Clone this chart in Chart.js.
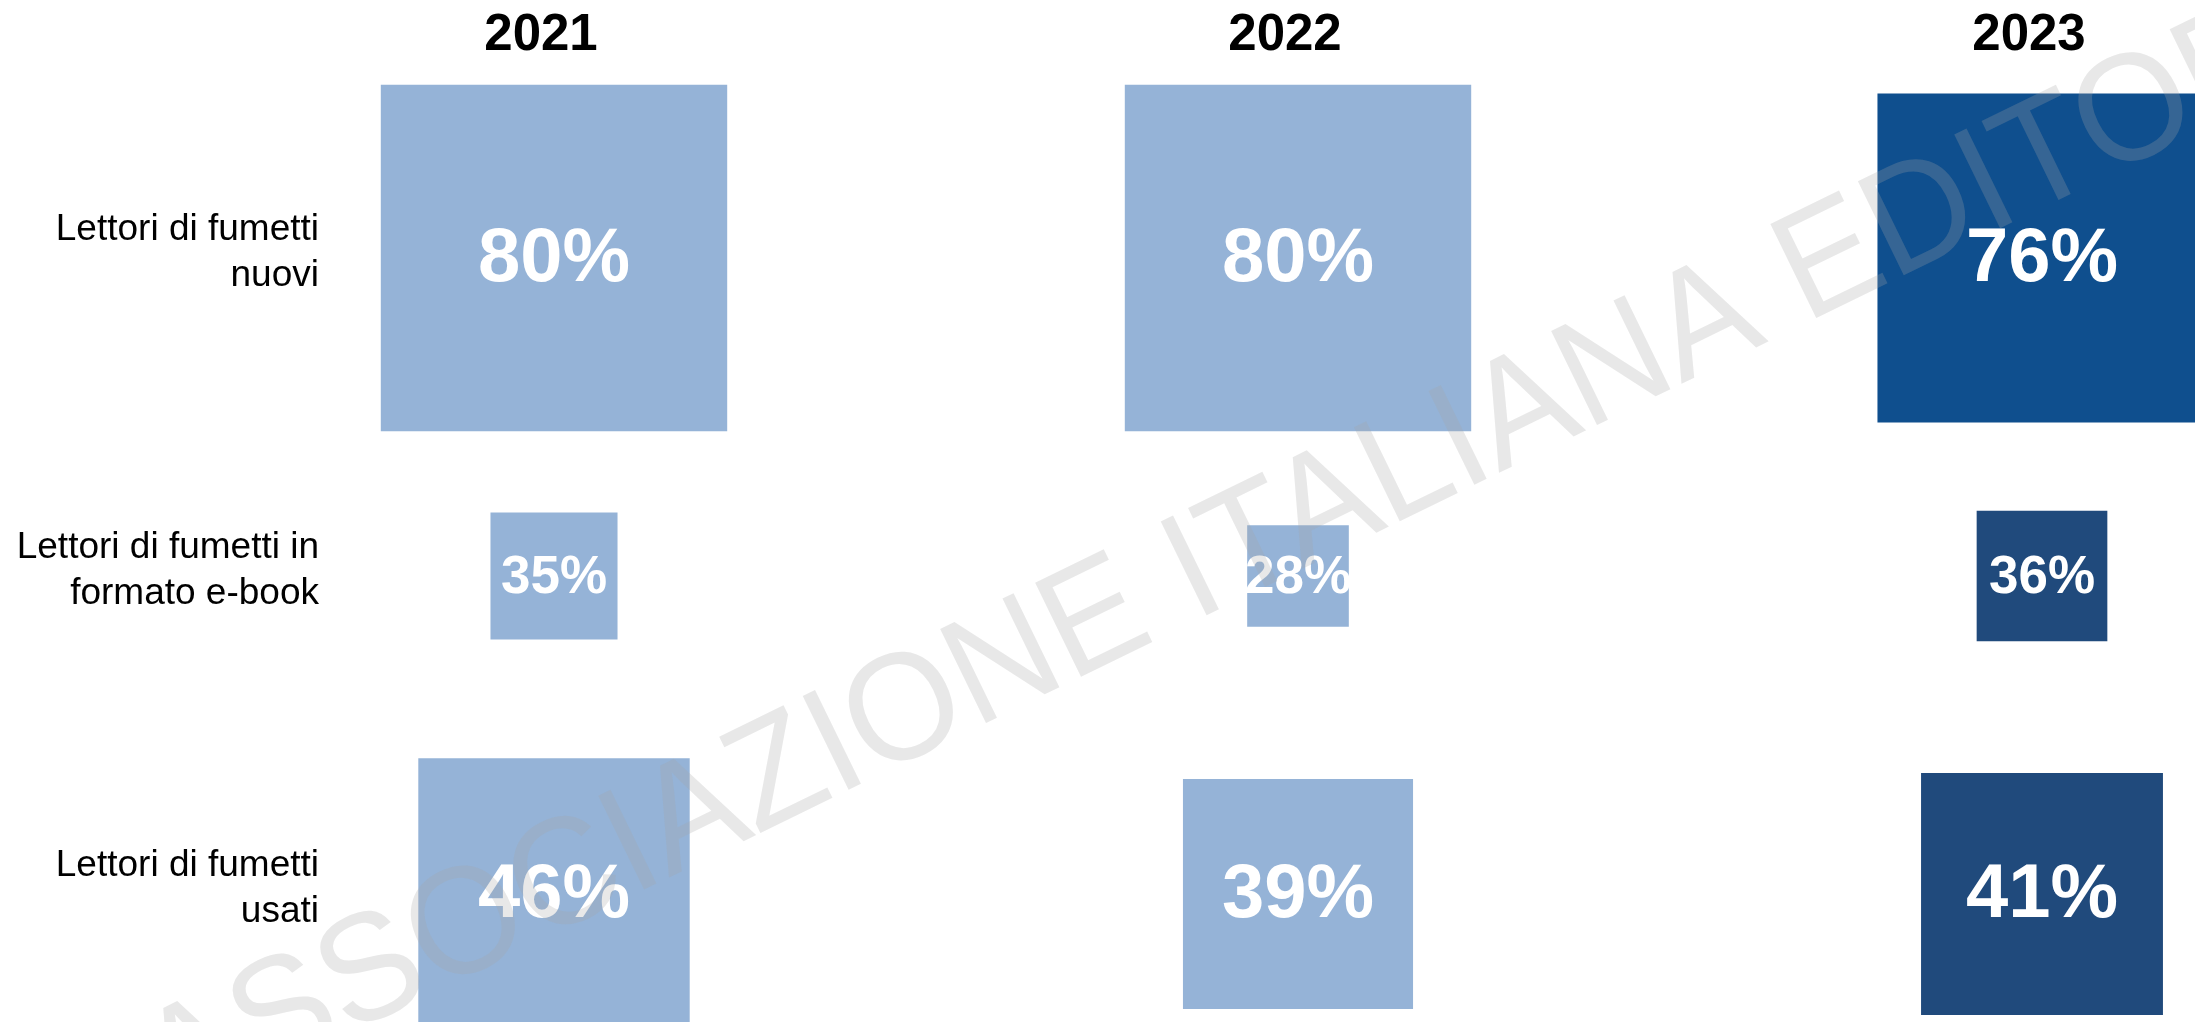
<!DOCTYPE html>
<html lang="it">
<head>
<meta charset="utf-8">
<title>Lettori di fumetti 2021-2023</title>
<script src="https://cdn.jsdelivr.net/npm/chart.js@4.4.1/dist/chart.umd.min.js"></script>
<style>
  html, body { margin: 0; padding: 0; background: #fff; }
  #wrap { width: 2195px; height: 1022px; position: relative; }
</style>
</head>
<body>
<div id="wrap"><canvas id="chart"></canvas></div>
<script>
// ================= DATA =================
const years = ["2021", "2022", "2023"];
const rowLabels = [
  ["Lettori di fumetti", "nuovi"],
  ["Lettori di fumetti in", "formato e-book"],
  ["Lettori di fumetti", "usati"]
];
const values2021 = [80, 35, 46];
const values2022 = [80, 28, 39];
const values2023 = [76, 36, 41];
const watermarkText = "ASSOCIAZIONE ITALIANA EDITORI";

// ================= LOOK =================
const FONT = "'Liberation Sans', Arial, Helvetica, sans-serif";
const LIGHT = "#95B3D7";
const colors2023 = ["#0F4F8E", "#204A7C", "#204A7C"];
// square side = rowScale * value (each row of the original has its own scale)
const rowScale = [4.33, 3.63, 5.9];
const labelSize = [76, 53, 76];

Chart.defaults.font.family = FONT;

function points(year, values) {
  return values.map((v, i) => ({ x: year, y: rowLabels[i], v: v }));
}

const series = [
  { year: years[0], values: values2021, color: LIGHT },
  { year: years[1], values: values2022, color: LIGHT },
  { year: years[2], values: values2023, color: colors2023 }
];

const datasets = series.map(s => ({
  label: s.year,
  data: points(s.year, s.values),
  backgroundColor: s.color,
  borderWidth: 0,
  pointStyle: "rect",
  pointRadius: ctx => {
    const p = ctx.raw;
    if (!p) return 0;
    return rowScale[ctx.dataIndex] * p.v / Math.SQRT2;
  },
  clip: false
}));

// keep the fixed axis sizes and drop the extra label padding chart.js adds
function fixAxis(size) {
  return s => {
    if (s.isHorizontal()) s.height = size; else s.width = size;
    s.paddingTop = s.paddingBottom = s.paddingLeft = s.paddingRight = 0;
  };
}

// ================= PLUGINS =================
const valueLabels = {
  id: "valueLabels",
  afterDatasetsDraw(chart) {
    const ctx = chart.ctx;
    ctx.save();
    ctx.fillStyle = "#fff";
    ctx.textAlign = "center";
    ctx.textBaseline = "middle";
    chart.data.datasets.forEach((ds, d) => {
      chart.getDatasetMeta(d).data.forEach((pt, i) => {
        ctx.font = `bold ${labelSize[i]}px ${FONT}`;
        ctx.fillText(ds.data[i].v + "%", pt.x, pt.y + 2);
      });
    });
    ctx.restore();
  }
};

const watermark = {
  id: "watermark",
  afterDraw(chart) {
    const ctx = chart.ctx;
    ctx.save();
    ctx.translate(172, 1120);
    ctx.rotate(-26 * Math.PI / 180);
    ctx.scale(0.962, 1);
    ctx.font = `152px ${FONT}`;
    ctx.fillStyle = "rgba(167,167,167,0.26)";
    ctx.textAlign = "left";
    ctx.textBaseline = "alphabetic";
    ctx.fillText(watermarkText, 0, 0);
    ctx.restore();
  }
};

// ================= CHART =================
new Chart(document.getElementById("chart"), {
  type: "scatter",
  data: { xLabels: years, yLabels: rowLabels, datasets: datasets },
  options: {
    responsive: true,
    maintainAspectRatio: false,
    animation: false,
    events: [],
    layout: {
      autoPadding: false,
      padding: { left: 0, top: 0, right: 153, bottom: 128 }
    },
    plugins: {
      legend: { display: false },
      tooltip: { enabled: false }
    },
    scales: {
      x: {
        type: "category",
        position: "top",
        offset: false,
        grid: { display: false, drawTicks: false },
        border: { display: false },
        ticks: {
          font: { size: 51, weight: "bold" },
          color: "#000",
          padding: 191,
          labelOffset: -13,
          maxRotation: 0,
          autoSkip: false
        },
        afterFit: fixAxis(258)
      },
      y: {
        type: "category",
        position: "left",
        offset: false,
        grid: { display: false, drawTicks: false },
        border: { display: false },
        ticks: {
          font: { size: 37, lineHeight: 1.24 },
          color: "#000",
          padding: 235,
          labelOffset: -5,
          autoSkip: false
        },
        afterFit: fixAxis(554)
      }
    }
  },
  plugins: [valueLabels, watermark]
});
</script>
</body>
</html>
